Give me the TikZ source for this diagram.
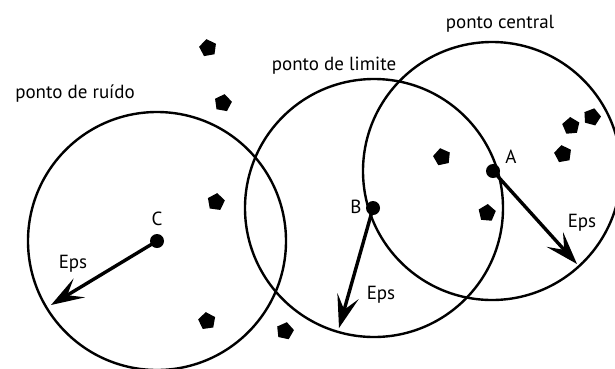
\documentclass[tikz,border=0pt]{standalone}
\usepackage{fontspec}
\setmainfont{PT Sans}
\usetikzlibrary{shapes.geometric,arrows.meta}
\begin{document}
\begin{tikzpicture}[x=1pt,y=-1pt,
  ring/.style={circle,draw,line width=2.4pt,minimum size=258pt,inner sep=0pt},
  dot/.style={circle,fill,inner sep=0pt,minimum size=14pt},
  pent/.style={regular polygon,regular polygon sides=5,fill,inner sep=0pt,minimum size=18pt,rotate=#1},
  pent/.default=0,
  epsarrow/.style={line width=3.4pt,-{Stealth[length=33pt,width=22pt,inset=14pt]}},
  lbl/.style={font=\fontsize{19}{22}\selectfont,inner sep=0pt}]
\useasboundingbox (0,0) rectangle (615,368);
\clip (0,0) rectangle (615,368);
% circles
\node[ring] (cC) at (157,241) {};
\node[ring] (cB) at (374,208) {};
\node[ring] (cA) at (492,171) {};
% centre dots
\node[dot] (C) at (157,241) {};
\node[dot] (B) at (373,208) {};
\node[dot] (A) at (493,171) {};
% arrow ends
\coordinate (tC) at (51,305);
\coordinate (tB) at (339,328);
\coordinate (tA) at (577,264);
\draw[epsarrow] (C.center) -- (tC);
\draw[epsarrow] (B.center) -- (tB);
\draw[epsarrow] (A.center) -- (tA);
% labels
\node[lbl] (lC) at (157,219) {C};
\node[lbl] (lB) at (356,207) {B};
\node[lbl] (lA) at (511,157) {A};
\node[lbl] (eC) at (73,264) {Eps};
\node[lbl] (eB) at (381,295) {Eps};
\node[lbl] (eA) at (582,223) {Eps};
\node[lbl] (tcentral) at (500,24) {ponto central};
\node[lbl] (tlimite) at (334,66) {ponto de limite};
\node[lbl] (truido) at (75,94) {ponto de ruído};
% noise / other points
\node[pent=10] (p1) at (208,48) {};
\node[pent=-10] (p2) at (223,103) {};
\node[pent=-8] (p3) at (216,202) {};
\node[pent=8] (p4) at (207,321) {};
\node[pent=-12] (p5) at (285,331) {};
\node[pent=12] (p6) at (442,157) {};
\node[pent=-5] (p7) at (487,213) {};
\node[pent=5] (p8) at (571,126) {};
\node[pent=-15] (p9) at (592,117) {};
\node[pent=10] (p10) at (563,154) {};
\end{tikzpicture}
\end{document}
